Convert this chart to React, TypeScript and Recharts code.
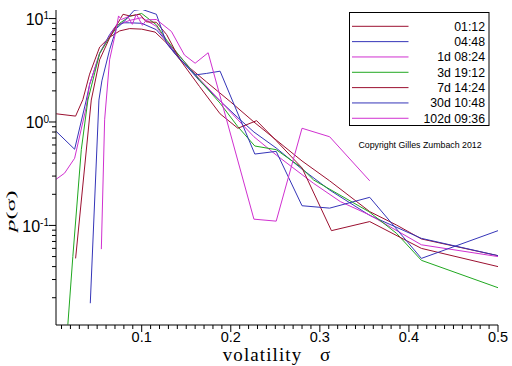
import React from 'react';
import { LineChart, Line, XAxis, YAxis, Legend, Label } from 'recharts';

// ---- data ----
const seriesNames = ['01:12', '04:48', '1d 08:24', '3d 19:12', '7d 14:24', '30d 10:48', '102d 09:36'];
const seriesColors = ['#9b1030', '#3535b8', '#d030d0', '#20a820', '#9b1030', '#3535b8', '#d030d0'];

const sigma0112 = [0.0041, 0.0258, 0.034, 0.0415, 0.0528, 0.064, 0.0753, 0.0865, 0.1, 0.115, 0.128, 0.143, 0.173, 0.2, 0.226, 0.251, 0.28, 0.311, 0.356, 0.386, 0.414, 0.5];
const p0112 = [1.2, 1.14, 1.65, 2.9, 5.3, 6.6, 7.6, 8.0, 7.9, 7.4, 5.8, 4.0, 2.43, 1.56, 1.0, 0.67, 0.42, 0.27, 0.136, 0.101, 0.074, 0.051];

const sigma0448 = [0.0041, 0.0247, 0.0378, 0.0415, 0.0528, 0.064, 0.0715, 0.08, 0.0865, 0.1, 0.1165, 0.128, 0.143, 0.165, 0.188, 0.208, 0.226, 0.251, 0.28, 0.311, 0.356, 0.414, 0.5];
const p0448 = [0.81, 0.545, 1.63, 2.3, 4.6, 7.0, 8.6, 9.1, 9.1, 9.0, 7.8, 6.0, 4.1, 2.5, 1.6, 1.1, 0.8, 0.56, 0.35, 0.22, 0.125, 0.075, 0.051];

const sigma1d = [0.0041, 0.0134, 0.0247, 0.0378, 0.0415, 0.0528, 0.064, 0.0715, 0.0865, 0.1, 0.1165, 0.128, 0.143, 0.165, 0.188, 0.208, 0.226, 0.251, 0.28, 0.293, 0.323, 0.356, 0.414, 0.5];
const p1d = [0.28, 0.32, 0.446, 1.4, 2.3, 4.6, 6.8, 8.6, 9.6, 10.2, 8.4, 6.0, 4.3, 2.6, 1.6, 1.05, 0.72, 0.48, 0.31, 0.255, 0.17, 0.126, 0.065, 0.05];

const sigma3d = [0.0171, 0.0227, 0.0322, 0.0396, 0.0528, 0.064, 0.0753, 0.0865, 0.1, 0.1165, 0.128, 0.143, 0.165, 0.188, 0.208, 0.227, 0.251, 0.278, 0.293, 0.355, 0.386, 0.414, 0.5];
const p3d = [0.011, 0.05, 0.54, 1.63, 4.6, 6.6, 9.0, 10.5, 11.2, 8.7, 6.2, 4.3, 2.55, 1.52, 0.9, 0.586, 0.54, 0.37, 0.275, 0.136, 0.084, 0.046, 0.025];

const sigma7d = [0.0258, 0.0434, 0.0528, 0.064, 0.0715, 0.079, 0.0865, 0.098, 0.105, 0.1165, 0.128, 0.143, 0.165, 0.188, 0.208, 0.229, 0.251, 0.28, 0.313, 0.356, 0.414, 0.5];
const p7d = [0.048, 1.63, 4.0, 6.5, 8.5, 11.0, 10.6, 11.0, 9.3, 9.2, 7.0, 4.0, 2.2, 1.2, 0.87, 1.03, 0.66, 0.36, 0.089, 0.109, 0.06, 0.04];

const sigma30d = [0.0423, 0.052, 0.0553, 0.064, 0.0715, 0.08, 0.0915, 0.1, 0.1165, 0.128, 0.139, 0.16, 0.173, 0.188, 0.227, 0.251, 0.28, 0.311, 0.356, 0.414, 0.5];
const p30d = [0.0177, 1.63, 2.5, 5.0, 8.0, 9.3, 12.0, 12.3, 11.0, 5.75, 4.4, 2.85, 2.95, 3.1, 0.49, 0.52, 0.155, 0.147, 0.187, 0.048, 0.089];

const sigma102d = [0.0547, 0.0584, 0.064, 0.0705, 0.074, 0.0772, 0.0846, 0.0895, 0.094, 0.1008, 0.1053, 0.1165, 0.1334, 0.148, 0.16, 0.1746, 0.226, 0.251, 0.28, 0.311, 0.356];
const p102d = [0.059, 1.05, 4.0, 7.2, 10.6, 9.8, 10.4, 8.8, 11.0, 8.6, 9.7, 9.8, 7.5, 4.44, 3.7, 4.67, 0.115, 0.11, 0.87, 0.72, 0.27];

const xMajorTicks = [0.1, 0.2, 0.3, 0.4, 0.5];
const xMajorLabels = ['0.1', '0.2', '0.3', '0.4', '0.5'];
const yMajorTicks = [0.1, 1, 10];
const yMajorExponents = ['-1', '0', '1'];

const copyrightText = 'Copyright Gilles Zumbach 2012';
const xTitle = 'volatility';
const sigmaSymbol = 'σ';

// ---- build tables ----
const zip = (s: number[], p: number[]) => s.map((v, i) => ({ s: v, p: p[i] }));
const seriesData = [
  zip(sigma0112, p0112),
  zip(sigma0448, p0448),
  zip(sigma1d, p1d),
  zip(sigma3d, p3d),
  zip(sigma7d, p7d),
  zip(sigma30d, p30d),
  zip(sigma102d, p102d),
];

const X_MIN = 0.0038;
const X_MAX = 0.5;
const Y_MIN = 0.0109;
const Y_MAX = 12.1;

const xTicks: number[] = [];
for (let i = 1; i <= 50; i++) xTicks.push(Number((i / 100).toFixed(2)));
const yTicks: number[] = [];
[0.01, 0.1, 1].forEach((d) => {
  for (let m = 1; m <= 9; m++) {
    const v = Number((m * d).toPrecision(3));
    if (v >= Y_MIN && v <= Y_MAX) yTicks.push(v);
  }
});
yTicks.push(10);

const SANS = '"Liberation Sans", Arial, Helvetica, sans-serif';
const SERIF = '"Liberation Serif", "Times New Roman", serif';

const XTick = (props: any) => {
  const { x, y, payload } = props;
  const v = payload.value;
  const mi = xMajorTicks.findIndex((t) => Math.abs(t - v) < 1e-6);
  const major = mi >= 0;
  return (
    <g>
      <line x1={x} x2={x} y1={y} y2={y + (major ? 7 : 4)} stroke="#000" strokeWidth={1} />
      {major && (
        <text x={x} y={y + 16.8} textAnchor="middle" fontSize={14.5} fontFamily={SANS} fill="#000">
          {xMajorLabels[mi]}
        </text>
      )}
    </g>
  );
};

const YTick = (props: any) => {
  const { x, y, payload } = props;
  const v = payload.value;
  const mi = yMajorTicks.findIndex((t) => Math.abs(t - v) < 1e-9);
  const major = mi >= 0;
  return (
    <g>
      <line x1={x - (major ? 7 : 4)} x2={x} y1={y} y2={y} stroke="#000" strokeWidth={1} />
      {major && (
        <text x={x - 7} y={y + 6.3} textAnchor="end" fontSize={16} fontFamily={SANS} fill="#000">
          10
          <tspan dy={-5.5} fontSize={10}>
            {yMajorExponents[mi]}
          </tspan>
        </text>
      )}
    </g>
  );
};

const LegendBox = () => {
  const rowY0 = 14.3;
  const step = 15.33;
  return (
    <svg width={142} height={140} style={{ display: 'block' }}>
      <rect x={0.5} y={0.5} width={139.5} height={113} fill="#fff" stroke="#000" strokeWidth={1} />
      {seriesNames.map((n, i) => (
        <g key={n}>
          <line x1={3} x2={59.5} y1={rowY0 + i * step} y2={rowY0 + i * step} stroke={seriesColors[i]} strokeWidth={1} />
          <text x={136} y={rowY0 + i * step + 4.4} textAnchor="end" fontSize={12.3} fontFamily={SANS} fill="#000">
            {n}
          </text>
        </g>
      ))}
      <text x={71} y={135.5} textAnchor="middle" fontSize={8.8} fontFamily={SANS} fill="#000">
        {copyrightText}
      </text>
    </svg>
  );
};

const XTitle = () => (
  <g>
    <text x={222.7} y={361.3} fontSize={19} letterSpacing={1.1} fontFamily={SERIF} fill="#000">
      {xTitle}
    </text>
    <text x={325} y={361.3} textAnchor="middle" fontSize={19} fontFamily={SERIF} fill="#000">
      {sigmaSymbol}
    </text>
  </g>
);

const YTitle = () => (
  <g transform="translate(14.8,211) rotate(-90) scale(1.8,1)">
    <text x={0} y={0} textAnchor="middle" fontSize={13.5} fontFamily={SERIF} fill="#000">
      <tspan fontStyle="italic">p</tspan>({sigmaSymbol})
    </text>
  </g>
);

export default function App() {
  return (
    <div style={{ position: 'absolute', left: 0, top: 0, width: 512, height: 366, background: '#fff' }}>
      <LineChart width={512} height={366} margin={{ top: 10, right: 14, bottom: 0, left: 0 }}>
        <XAxis
          type="number"
          dataKey="s"
          domain={[X_MIN, X_MAX]}
          allowDataOverflow
          ticks={xTicks}
          interval={0}
          tick={<XTick />}
          tickLine={false}
          tickSize={0}
          tickMargin={0}
          height={41}
          axisLine={{ stroke: '#000', strokeWidth: 1 }}
        >
          <Label content={() => <XTitle />} />
        </XAxis>
        <YAxis
          type="number"
          scale="log"
          dataKey="p"
          domain={[Y_MIN, Y_MAX]}
          allowDataOverflow
          ticks={yTicks}
          interval={0}
          tick={<YTick />}
          tickLine={false}
          tickSize={0}
          tickMargin={0}
          width={56}
          axisLine={{ stroke: '#000', strokeWidth: 1 }}
        >
          <Label content={() => <YTitle />} />
        </YAxis>
        {seriesData.map((d, i) => (
          <Line
            key={seriesNames[i]}
            data={d}
            dataKey="p"
            name={seriesNames[i]}
            type="linear"
            stroke={seriesColors[i]}
            strokeWidth={1}
            dot={false}
            activeDot={false}
            isAnimationActive={false}
          />
        ))}
        <Legend
          layout="horizontal"
          verticalAlign="middle"
          align="center"
          content={() => <LegendBox />}
          wrapperStyle={{ position: 'absolute', left: 349, top: 12, width: 142, height: 140, margin: 0, padding: 0 }}
        />
      </LineChart>
    </div>
  );
}
